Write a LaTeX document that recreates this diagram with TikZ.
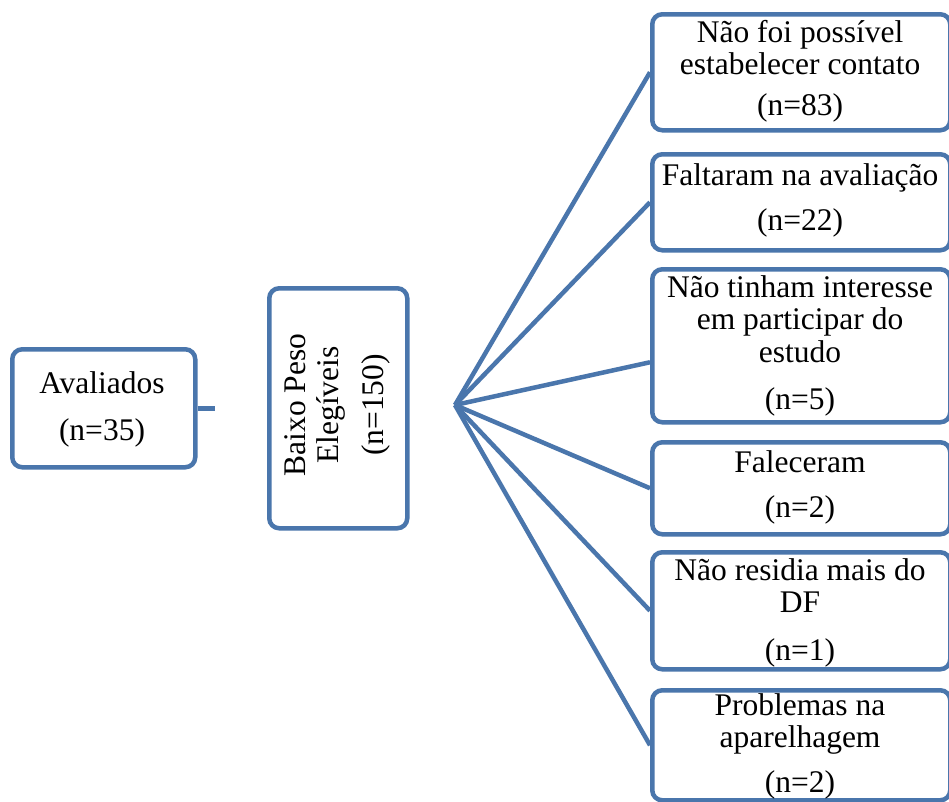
\documentclass[tikz,border=0pt]{standalone}
\usepackage{fontspec}
\setmainfont{Liberation Serif}
\definecolor{edge}{RGB}{74,118,172}
\begin{document}
\begin{tikzpicture}[x=1pt,y=-1pt,
  box/.style={draw=edge, line width=4.5pt, rounded corners=10pt, inner sep=0pt, anchor=north west},
  conn/.style={draw=edge, line width=4.5pt},
  txt/.style={font=\fontsize{31.5}{33}\selectfont, anchor=base, inner sep=0pt},
]
\useasboundingbox (0,0) rectangle (949,801);
\clip (0,0) rectangle (949,801);
\fill[white] (0,0) rectangle (949,801);

% boxes
\node[box, minimum width=183pt, minimum height=118pt] (av) at (10,347) {};
\node[box, minimum width=138pt, minimum height=240pt] (bp) at (267,286) {};
\node[box, minimum width=298pt, minimum height=116pt] (b1) at (650,12) {};
\node[box, minimum width=298pt, minimum height=96pt] (b2) at (650,152) {};
\node[box, minimum width=298pt, minimum height=153pt] (b3) at (650,267) {};
\node[box, minimum width=298pt, minimum height=92pt] (b4) at (650,440) {};
\node[box, minimum width=298pt, minimum height=117pt] (b5) at (650,550) {};
\node[box, minimum width=298pt, minimum height=110pt] (b6) at (650,688) {};

% connectors
\coordinate (stub) at (215,406);
\draw[conn] (av.east) -- (av.east -| stub);
\coordinate (fan) at (455,405);
\draw[conn] (fan) -- (b1.west);
\draw[conn] (fan) -- (b2.west);
\draw[conn] (fan) -- ([yshift=-16.5pt]b3.west);
\draw[conn] (fan) -- (b4.west);
\draw[conn] (fan) -- (b5.west);
\draw[conn] (fan) -- (b6.west);

% texts
\node[txt] (av1) at (102,393) {Avaliados};
\node[txt] (av2) at (102,440) {(n=35)};

\node[txt, rotate=90] (bp1) at (305,405) {Baixo Peso};
\node[txt, rotate=90] (bp2) at (338,405) {Elegíveis};
\node[txt, rotate=90] (bp3) at (383,405) {(n=150)};

\node[txt] (t11) at (800,42) {Não foi possível};
\node[txt] (t12) at (800,74) {estabelecer contato};
\node[txt] (t13) at (800,115) {(n=83)};

\node[txt] (t21) at (800,185) {Faltaram na avaliação};
\node[txt] (t22) at (800,230) {(n=22)};

\node[txt] (t31) at (800,297) {Não tinham interesse};
\node[txt] (t32) at (800,329) {em participar do};
\node[txt] (t33) at (800,362) {estudo};
\node[txt] (t34) at (800,409) {(n=5)};

\node[txt] (t41) at (800,472) {Faleceram};
\node[txt] (t42) at (800,517) {(n=2)};

\node[txt] (t51) at (800,580) {Não residia mais do};
\node[txt] (t52) at (800,612) {DF};
\node[txt] (t53) at (800,660) {(n=1)};

\node[txt] (t61) at (800,715) {Problemas na};
\node[txt] (t62) at (800,747) {aparelhagem};
\node[txt] (t63) at (800,792) {(n=2)};
\end{tikzpicture}
\end{document}
